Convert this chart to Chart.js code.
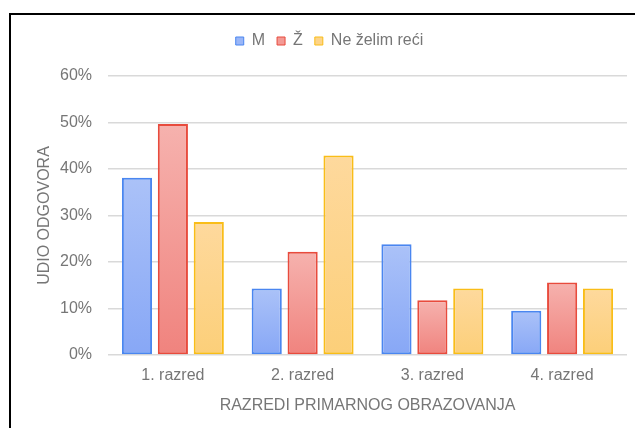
<!DOCTYPE html>
<html>
<head>
	<meta charset="UTF-8">
	<title>razredi</title>
	<script src="https://cdn.jsdelivr.net/npm/chart.js"></script>
	<style>
	html, body {margin:0; padding:0; background:#fff;}
	#frame {position:absolute; left:9px; top:13px; width:640px; height:420px; border-top:2px solid #000; border-left:2px solid #000;}
	#wrap {position:absolute; left:0; top:0; width:635px; height:428px;}
	</style>
</head>
<body>
	<div id="frame"></div>
	<div id="wrap">
	  <canvas id="myChart" width="635" height="428"></canvas>
	</div>
	<script>
	// podaci (udio odgovora u %)
	const categories = ['1. razred', '2. razred', '3. razred', '4. razred'];
	const seriesNames = ['M', 'Ž', 'Ne želim reći'];
	const valuesM = [38.1, 14.3, 23.8, 9.5];
	const valuesZ = [49.7, 22.2, 11.8, 15.6];
	const valuesNe = [28.6, 42.9, 14.3, 14.3];
	const yTicks = [0, 10, 20, 30, 40, 50, 60];

	const textColor = '#767676';
	const fontFam = '"Liberation Sans", Arial, sans-serif';

	// boje: [vrh gradijenta, dno gradijenta, rub, legenda]
	const colM = ['#abc2f8', '#87a7f6', '#4a86f0', '#9ab6f7'];
	const colZ = ['#f6b2ae', '#f0837e', '#e84b3d', '#f39a95'];
	const colNe = ['#fed99d', '#fccf79', '#f9bd18', '#fdd488'];

	// gradijent po stupcu (svjetlije gore)
	function barFill(col) {
		return function(c) {
			if (c.type !== 'data') return col[3];
			const y = c.chart.scales.y;
			if (!y) return col[3];
			const top = y.getPixelForValue(c.raw);
			const base = y.getPixelForValue(0);
			if (!isFinite(top) || !isFinite(base) || top === base) return col[3];
			const g = c.chart.ctx.createLinearGradient(0, top, 0, base);
			g.addColorStop(0, col[0]);
			g.addColorStop(1, col[1]);
			return g;
		};
	}

	function makeSet(label, data, col) {
		return {
			label: label,
			data: data,
			backgroundColor: barFill(col),
			borderColor: col[2],
			borderWidth: 2,
			borderSkipped: false,
			categoryPercentage: 0.83,
			barPercentage: 0.84
		};
	}

	const allCols = [colM, colZ, colNe];

	const ctx = document.getElementById('myChart');
	new Chart(ctx, {
		type: 'bar',
		data: {
			labels: categories,
			datasets: [
				makeSet(seriesNames[0], valuesM, colM),
				makeSet(seriesNames[1], valuesZ, colZ),
				makeSet(seriesNames[2], valuesNe, colNe)
			]
		},
		options: {
			responsive: false,
			animation: false,
			layout: {padding: {left: 32, right: 8, top: 21, bottom: 0}},
			plugins: {
				legend: {
					position: 'top',
					labels: {
						boxWidth: 8,
						boxHeight: 8,
						padding: 12,
						color: textColor,
						font: {family: fontFam, size: 16},
						generateLabels: function(chart) {
							return chart.data.datasets.map(function(ds, i) {
								return {
									text: ds.label,
									fillStyle: allCols[i][3],
									strokeStyle: allCols[i][2],
									lineWidth: 1,
									fontColor: textColor,
									datasetIndex: i,
									hidden: false
								};
							});
						}
					}
				},
				// prazan podnaslov samo kao razmak ispod legende
				subtitle: {
					display: true,
					text: '',
					weight: 500,
					font: {size: 10},
					padding: {top: 0, bottom: 5}
				},
				tooltip: {enabled: false}
			},
			scales: {
				x: {
					grid: {display: false, drawTicks: false},
					border: {display: false},
					ticks: {color: textColor, padding: 11, font: {family: fontFam, size: 16}},
					title: {
						display: true,
						text: 'RAZREDI PRIMARNOG OBRAZOVANJA',
						color: textColor,
						font: {family: fontFam, size: 16},
						padding: {top: 0, bottom: 13}
					},
					afterFit: function(scale) { scale.height = 73; }
				},
				y: {
					min: 0,
					max: 60,
					border: {display: false},
					grid: {color: '#d9d9d9', lineWidth: 1.5, drawTicks: false},
					afterBuildTicks: function(scale) {
						scale.ticks = yTicks.map(function(v) { return {value: v}; });
					},
					ticks: {
						color: textColor,
						padding: 16,
						font: {family: fontFam, size: 16},
						callback: function(v) { return v + '%'; }
					},
					title: {
						display: true,
						text: 'UDIO ODGOVORA',
						color: textColor,
						font: {family: fontFam, size: 16},
						padding: {top: 3.4, bottom: 0}
					},
					afterFit: function(scale) { scale.width = 76; }
				}
			}
		}
	});
	</script>
</body>
</html>
